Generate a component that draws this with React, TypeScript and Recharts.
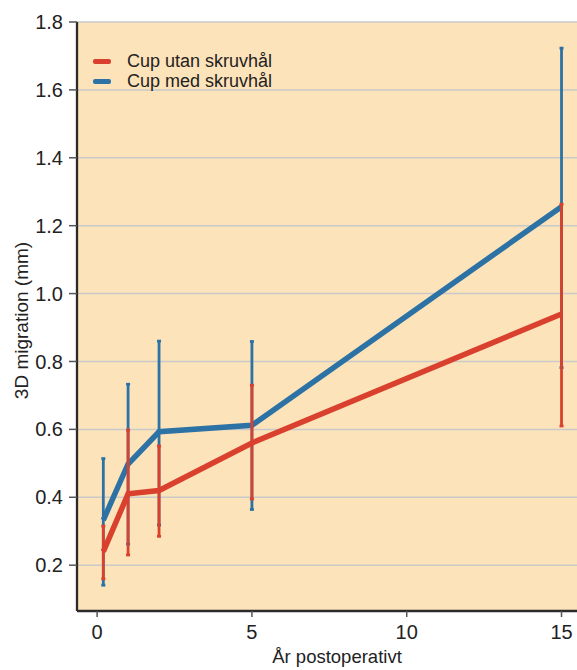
import { LineChart, Line, XAxis, YAxis, CartesianGrid, ErrorBar, Label } from 'recharts'

const years = [0.2, 1, 2, 5, 15]

// Cup utan skruvhål (red)
const utanMean = [0.24, 0.41, 0.42, 0.56, 0.94]
const utanLow = [0.16, 0.23, 0.285, 0.395, 0.61]
const utanHigh = [0.315, 0.598, 0.551, 0.73, 1.263]

// Cup med skruvhål (blue)
const medMean = [0.333, 0.498, 0.593, 0.612, 1.256]
const medLow = [0.141, 0.262, 0.318, 0.364, 0.782]
const medHigh = [0.514, 0.733, 0.86, 0.859, 1.723]

const xTicks = [0, 5, 10, 15]
const yTicks = [0.2, 0.4, 0.6, 0.8, 1.0, 1.2, 1.4, 1.6, 1.8]

const seriesNames = ['Cup utan skruvhål', 'Cup med skruvhål']
const RED = '#d9402d'
const BLUE = '#2c72a5'
const seriesColors = [RED, BLUE]

const data = years.map((x, i) => ({
  x,
  utan: utanMean[i],
  utanErr: [utanMean[i] - utanLow[i], utanHigh[i] - utanMean[i]],
  med: medMean[i],
  medErr: [medMean[i] - medLow[i], medHigh[i] - medMean[i]],
}))

const tickFont = { fontSize: 20, fontFamily: '"Liberation Sans Narrow", "Liberation Sans", Arial, sans-serif', fill: '#222' }
const labelFont = '"Liberation Sans", Arial, sans-serif'

function MyLegend() {
  return (
    <div style={{ position: 'absolute', left: 93, top: 52, fontFamily: labelFont, fontSize: 18, color: '#222', lineHeight: '19.5px' }}>
      {seriesNames.map((name, i) => (
        <div key={name} style={{ display: 'flex', alignItems: 'center' }}>
          <span style={{ display: 'inline-block', width: 18, height: 5, borderRadius: 2, background: seriesColors[i], marginRight: 16 }} />
          <span>{name}</span>
        </div>
      ))}
    </div>
  )
}

export default function App() {
  return (
    <div style={{ position: 'absolute', left: 0, top: 0, width: 577, height: 670, background: '#fff' }}>
      <LineChart width={577} height={670} data={data} margin={{ top: 22, right: 0, bottom: 0, left: 0 }}>
        <CartesianGrid vertical={false} fill="#fde3b9" stroke="#c9c9c9" strokeWidth={1.5} />
        <XAxis
          dataKey="x"
          type="number"
          domain={[-0.65, 15.5]}
          ticks={xTicks}
          allowDataOverflow
          height={59}
          tick={tickFont}
          tickSize={6}
          tickMargin={8}
          axisLine={{ stroke: '#2a2a2a', strokeWidth: 2.3 }}
          tickLine={{ stroke: '#555', strokeWidth: 1.5 }}
        >
          <Label
            content={({ viewBox }: any) => (
              <text x={viewBox.x + 260} y={viewBox.y + 52} textAnchor="middle" fontFamily={labelFont} fontSize={18.5} fill="#222">
                År postoperativt
              </text>
            )}
          />
        </XAxis>
        <YAxis
          type="number"
          domain={[0.065, 1.8]}
          ticks={yTicks}
          allowDataOverflow
          width={77}
          tick={tickFont}
          tickSize={8}
          tickMargin={6}
          tickFormatter={(v: number) => v.toFixed(1)}
          axisLine={{ stroke: '#2a2a2a', strokeWidth: 2.3 }}
          tickLine={{ stroke: '#555', strokeWidth: 1.5 }}
        >
          <Label
            content={({ viewBox }: any) => {
              const cx = viewBox.x + 21
              const cy = viewBox.y + viewBox.height / 2 + 4
              return (
                <text x={cx} y={cy} transform={`rotate(-90 ${cx} ${cy})`} textAnchor="middle" dominantBaseline="central" fontFamily={labelFont} fontSize={19} fill="#222">
                  3D migration (mm)
                </text>
              )
            }}
          />
        </YAxis>
        <Line type="linear" dataKey="med" name={seriesNames[1]} stroke={BLUE} strokeWidth={5.5} dot={false} isAnimationActive={false}>
          <ErrorBar dataKey="medErr" direction="y" width={2} stroke={BLUE} strokeWidth={2.8} isAnimationActive={false} />
        </Line>
        <Line type="linear" dataKey="utan" name={seriesNames[0]} stroke={RED} strokeWidth={5.5} dot={false} isAnimationActive={false}>
          <ErrorBar dataKey="utanErr" direction="y" width={2} stroke={RED} strokeWidth={2.8} isAnimationActive={false} />
        </Line>
      </LineChart>
      <MyLegend />
    </div>
  )
}
